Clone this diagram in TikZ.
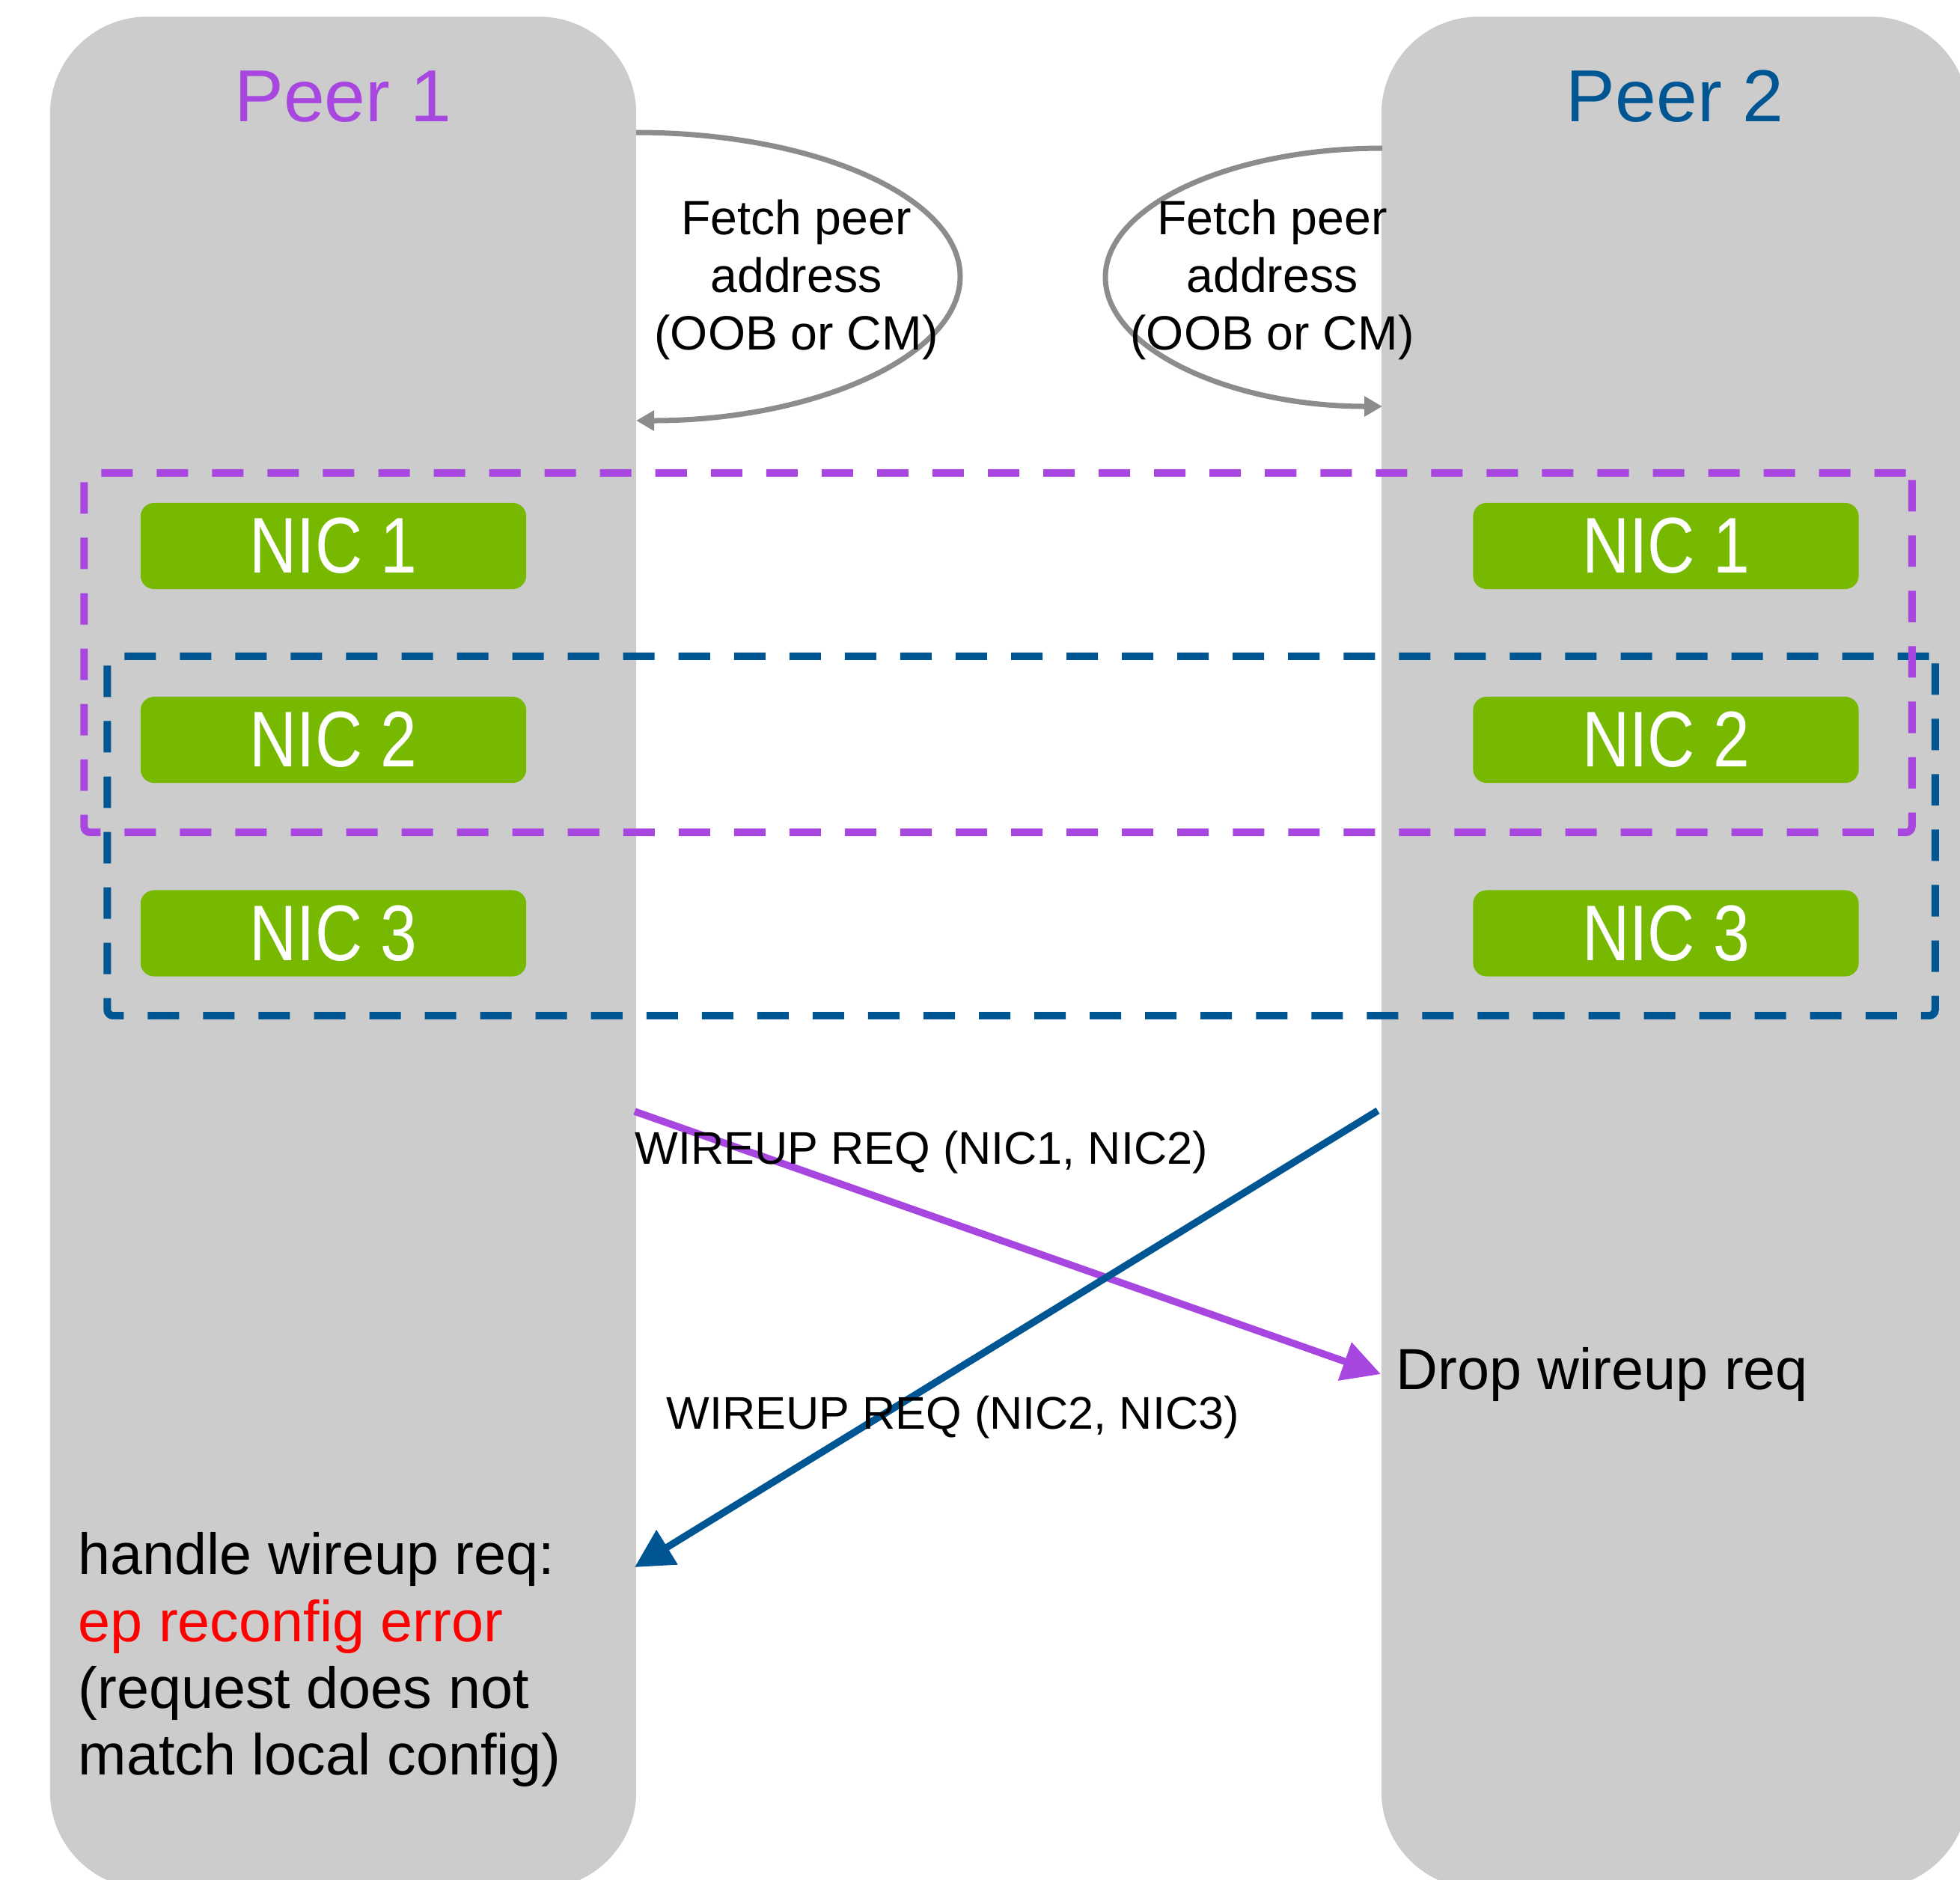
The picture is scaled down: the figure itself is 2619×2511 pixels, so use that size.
\documentclass[tikz,border=0pt]{standalone}
\usepackage{fontspec}
\usepackage{graphicx}
\setmainfont{Liberation Sans}
\usetikzlibrary{arrows.meta}
\definecolor{peerpurple}{HTML}{A846E0}
\definecolor{peerblue}{HTML}{005593}
\definecolor{nicgreen}{HTML}{76B900}
\definecolor{panelgray}{HTML}{CCCCCC}
\definecolor{arcgray}{HTML}{8C8C8C}
\definecolor{errred}{HTML}{FF0000}
\begin{document}
\begin{tikzpicture}[x=0.01cm,y=-0.01cm,
  panel/.style={draw=none,fill=panelgray,rounded corners=1.3cm,minimum height=25cm,inner sep=0},
  nicbox/.style={fill=nicgreen,rounded corners=0.18cm,minimum width=5.15cm,minimum height=1.15cm,inner sep=0,text=white,font=\fontsize{30}{36}\selectfont},
  grpbox/.style={draw,line width=0.1cm,dash pattern=on 0.42cm off 0.32cm,minimum width=24.41cm,minimum height=4.8cm,inner sep=0,rounded corners=0.08cm},
  title/.style={anchor=base,inner sep=0,font=\fontsize{28}{34}\selectfont},
  fetch/.style={align=center,inner sep=0,font=\fontsize{18.3}{21.9}\selectfont},
  fetcharc/.style={draw=arcgray,line width=0.07cm,-{Triangle[length=0.24cm,width=0.26cm]}},
  msg/.style={line width=0.095cm,-{Triangle[length=0.51cm,width=0.52cm]}},
  lbl/.style={anchor=base west,inner sep=0,font=\fontsize{17.4}{21}\selectfont},
]
\useasboundingbox (0,0) rectangle (2619,2511);
\clip (0,0) rectangle (2619,2511);

% peer panels
\node[panel,minimum width=7.83cm] (p1) at (458.5,1273) {};
\node[panel,minimum width=7.84cm] (p2) at (2238,1273) {};

% titles
\node[title,text=peerpurple] (t1) at (458.5,162) {Peer 1};
\node[title,text=peerblue] (t2) at (2238,162) {Peer 2};

% fetch peer address arcs
\coordinate (a1s) at (850,177);
\coordinate (a1m) at (1283,369.5);
\coordinate (a1e) at (850,562);
\draw[fetcharc] (a1s) .. controls +(239,0) and +(0,-106) .. (a1m)
  .. controls +(0,106) and +(239,0) .. (a1e);
\coordinate (a2s) at (1847,198);
\coordinate (a2m) at (1477,370.5);
\coordinate (a2e) at (1847,543);
\draw[fetcharc] (a2s) .. controls +(-204,0) and +(0,-95) .. (a2m)
  .. controls +(0,95) and +(-204,0) .. (a2e);
\node[fetch] (f1) at (1064,374) {Fetch peer\\address\\(OOB or CM)};
\node[fetch] (f2) at (1700,374) {Fetch peer\\address\\(OOB or CM)};

% NIC groups
\node[grpbox,draw=peerblue] (g2) at (1364.5,1117) {};
\node[grpbox,draw=peerpurple] (g1) at (1333.5,872) {};

% NICs
\node[nicbox] (n11) at (445.5,729.5) {\scalebox{0.83}[1]{NIC 1}};
\node[nicbox] (n12) at (445.5,988.5) {\scalebox{0.83}[1]{NIC 2}};
\node[nicbox] (n13) at (445.5,1247) {\scalebox{0.83}[1]{NIC 3}};
\node[nicbox] (n21) at (2226,729.5) {\scalebox{0.83}[1]{NIC 1}};
\node[nicbox] (n22) at (2226,988.5) {\scalebox{0.83}[1]{NIC 2}};
\node[nicbox] (n23) at (2226,1247) {\scalebox{0.83}[1]{NIC 3}};

% texts
\node[anchor=base west,inner sep=0.2cm,font=\fontsize{22}{26}\selectfont] (drop) at (1845,1856) {Drop wireup req};
\node[anchor=north west,inner sep=0,align=left,font=\fontsize{22}{25.4}\selectfont] (handle) at (104,2047)
  {handle wireup req:\\\textcolor{errred}{ep reconfig error}\\(request does not\\match local config)};

% wireup messages
\coordinate (m1s) at (848,1485);
\coordinate (m2s) at (1841,1484);
\coordinate (m2e) at (848,2094);
\draw[msg,draw=peerpurple,fill=peerpurple] (m1s) -- (drop.west);
\draw[msg,draw=peerblue,fill=peerblue] (m2s) -- (m2e);
\node[lbl] (l1) at (848,1555) {WIREUP REQ (NIC1, NIC2)};
\node[lbl] (l2) at (890,1909) {WIREUP REQ (NIC2, NIC3)};
\end{tikzpicture}
\end{document}
